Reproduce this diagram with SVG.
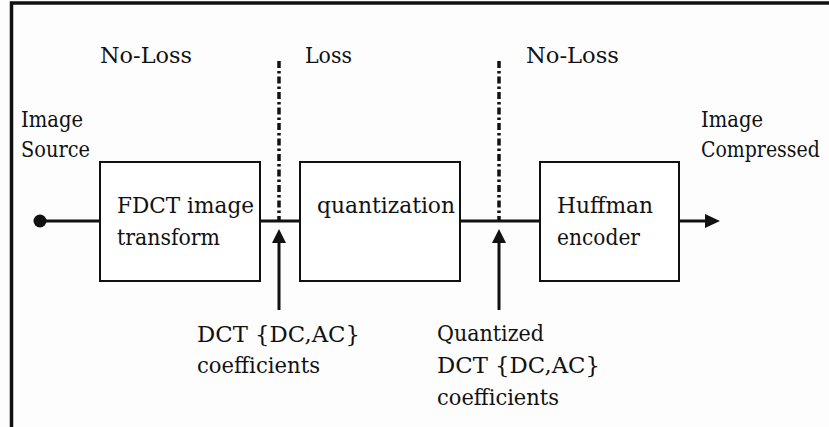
<svg xmlns="http://www.w3.org/2000/svg" width="829" height="427" viewBox="0 0 829 427">
<style>
text{font-family:"DejaVu Serif","Liberation Serif",serif;font-size:22px;fill:#111;}
.box{fill:#fff;stroke:#111;stroke-width:2;}
.wire{stroke:#111;stroke-width:3;fill:none;}
.div{stroke:#111;stroke-width:3.5;stroke-dasharray:7 3 2.5 3;fill:none;}
.head{fill:#111;}
</style>
<rect width="829" height="427" fill="#fdfdfd"/>
<path d="M11.5,427 V3 H829" fill="none" stroke="#111" stroke-width="3.5"/>
<g id="labels">
<text x="100" y="63" textLength="92" lengthAdjust="spacingAndGlyphs">No-Loss</text>
<text x="305" y="63" textLength="47" lengthAdjust="spacingAndGlyphs">Loss</text>
<text x="526" y="63" textLength="93" lengthAdjust="spacingAndGlyphs">No-Loss</text>
</g>
<g id="connectors">
<line class="div" x1="279" y1="61" x2="279" y2="220"/>
<line class="div" x1="499" y1="61" x2="499" y2="220"/>
<line class="wire" x1="40" y1="221" x2="100" y2="221"/>
<line class="wire" x1="260" y1="221" x2="300" y2="221"/>
<line class="wire" x1="460" y1="221" x2="540" y2="221"/>
<line class="wire" x1="679" y1="221" x2="707" y2="221"/>
<polygon class="head" points="705,214 720,221 705,228"/>
<line class="wire" x1="279" y1="242" x2="279" y2="310"/>
<polygon class="head" points="272,243 279,229 286,243"/>
<line class="wire" x1="499" y1="242" x2="499" y2="310"/>
<polygon class="head" points="492,243 499,229 506,243"/>
</g>
<g id="source">
<circle cx="40" cy="221" r="6.5" fill="#111"/>
<text x="21" y="127" textLength="62" lengthAdjust="spacingAndGlyphs">Image</text>
<text x="21" y="157" textLength="69" lengthAdjust="spacingAndGlyphs">Source</text>
</g>
<g id="fdct">
<rect class="box" x="100" y="162" width="160" height="119"/>
<text x="117" y="213" textLength="137" lengthAdjust="spacingAndGlyphs">FDCT image</text>
<text x="117" y="245" textLength="103" lengthAdjust="spacingAndGlyphs">transform</text>
</g>
<g id="quantization">
<rect class="box" x="300" y="162" width="160" height="119"/>
<text x="317" y="213" textLength="138" lengthAdjust="spacingAndGlyphs">quantization</text>
</g>
<g id="huffman">
<rect class="box" x="540" y="162" width="139" height="119"/>
<text x="557" y="213" textLength="96" lengthAdjust="spacingAndGlyphs">Huffman</text>
<text x="557" y="245" textLength="83" lengthAdjust="spacingAndGlyphs">encoder</text>
</g>
<g id="output">
<text x="701" y="127" textLength="62" lengthAdjust="spacingAndGlyphs">Image</text>
<text transform="translate(701,157) scale(0.86,1)" x="0" y="0">Compressed</text>
</g>
<g id="dct-coeff">
<text x="197" y="342" textLength="163" lengthAdjust="spacingAndGlyphs">DCT {DC,AC}</text>
<text x="197" y="373" textLength="123" lengthAdjust="spacingAndGlyphs">coefficients</text>
</g>
<g id="quant-coeff">
<text x="437" y="341" textLength="107" lengthAdjust="spacingAndGlyphs">Quantized</text>
<text x="437" y="373" textLength="163" lengthAdjust="spacingAndGlyphs">DCT {DC,AC}</text>
<text x="437" y="405" textLength="122" lengthAdjust="spacingAndGlyphs">coefficients</text>
</g>
</svg>
